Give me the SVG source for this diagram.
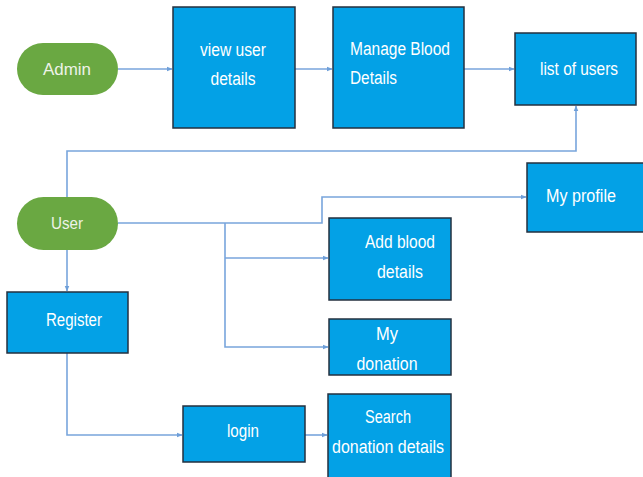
<svg xmlns="http://www.w3.org/2000/svg" width="643" height="477" viewBox="0 0 643 477">
<defs>
<style>
.box{fill:#03a1e6;stroke:#24303f;stroke-width:1.5}
.pill{fill:#6aa842}
.t{font-family:"Liberation Sans",Arial,sans-serif;font-size:18px;fill:#ffffff;text-anchor:middle}
.tl{text-anchor:start}
.pt{font-family:"Liberation Sans",Arial,sans-serif;font-size:16px;fill:#eef3e8;text-anchor:middle}
.c{fill:none;stroke:#78a5dc;stroke-width:1.6}
</style>
<marker id="a" viewBox="0 0 10 10" refX="9" refY="5" markerWidth="6" markerHeight="6" orient="auto" markerUnits="userSpaceOnUse">
<path d="M0,1 L10,5 L0,9 z" fill="#6e9fd9"/>
</marker>
</defs>
<rect width="643" height="477" fill="#ffffff"/>
<g id="connectors">
<path class="c" d="M118,69 H172" marker-end="url(#a)"/>
<path class="c" d="M295,69 H332" marker-end="url(#a)"/>
<path class="c" d="M464,69 H514" marker-end="url(#a)"/>
<path class="c" d="M67,197 V151 H576 V106" marker-end="url(#a)"/>
<path class="c" d="M67,250 V291" marker-end="url(#a)"/>
<path class="c" d="M118,223 H322 V197 H526" marker-end="url(#a)"/>
<path class="c" d="M225,223 V347 H328" marker-end="url(#a)"/>
<path class="c" d="M225,258 H328" marker-end="url(#a)"/>
<path class="c" d="M67,353 V435 H182" marker-end="url(#a)"/>
<path class="c" d="M305,435 H327" marker-end="url(#a)"/>
</g>
<g id="admin">
<rect class="pill" x="17" y="43" width="101" height="52" rx="26"/>
<text class="pt" x="67" y="75" textLength="48" lengthAdjust="spacingAndGlyphs">Admin</text>
</g>
<g id="view-user-details">
<rect class="box" x="173" y="7" width="122" height="121"/>
<text class="t" x="233" y="56" textLength="66" lengthAdjust="spacingAndGlyphs">view user</text>
<text class="t" x="233" y="85" textLength="45" lengthAdjust="spacingAndGlyphs">details</text>
</g>
<g id="manage-blood-details">
<rect class="box" x="333" y="7" width="131" height="121"/>
<text class="t tl" x="350" y="55" textLength="100" lengthAdjust="spacingAndGlyphs">Manage Blood</text>
<text class="t tl" x="350" y="84" textLength="47" lengthAdjust="spacingAndGlyphs">Details</text>
</g>
<g id="list-of-users">
<rect class="box" x="515" y="33" width="121" height="72"/>
<text class="t" x="579" y="75" textLength="78" lengthAdjust="spacingAndGlyphs">list of users</text>
</g>
<g id="user">
<rect class="pill" x="17" y="197" width="101" height="53" rx="26.5"/>
<text class="pt" x="67" y="229" textLength="32" lengthAdjust="spacingAndGlyphs">User</text>
</g>
<g id="register">
<rect class="box" x="7" y="292" width="121" height="61"/>
<text class="t" x="74" y="326" textLength="56" lengthAdjust="spacingAndGlyphs">Register</text>
</g>
<g id="my-profile">
<rect class="box" x="527" y="163" width="118" height="69"/>
<text class="t" x="581" y="202" textLength="70" lengthAdjust="spacingAndGlyphs">My profile</text>
</g>
<g id="add-blood-details">
<rect class="box" x="329" y="218" width="122" height="82"/>
<text class="t" x="400" y="248" textLength="70" lengthAdjust="spacingAndGlyphs">Add blood</text>
<text class="t" x="400" y="278" textLength="46" lengthAdjust="spacingAndGlyphs">details</text>
</g>
<g id="my-donation">
<rect class="box" x="329" y="319" width="122" height="56"/>
<text class="t" x="387" y="340" textLength="22" lengthAdjust="spacingAndGlyphs">My</text>
<text class="t" x="387" y="370" textLength="61" lengthAdjust="spacingAndGlyphs">donation</text>
</g>
<g id="login">
<rect class="box" x="183" y="406" width="122" height="56"/>
<text class="t" x="243" y="437" textLength="32" lengthAdjust="spacingAndGlyphs">login</text>
</g>
<g id="search-donation-details">
<rect class="box" x="328" y="394" width="123" height="86"/>
<text class="t" x="388" y="423" textLength="46" lengthAdjust="spacingAndGlyphs">Search</text>
<text class="t" x="388" y="453" textLength="112" lengthAdjust="spacingAndGlyphs">donation details</text>
</g>
</svg>
